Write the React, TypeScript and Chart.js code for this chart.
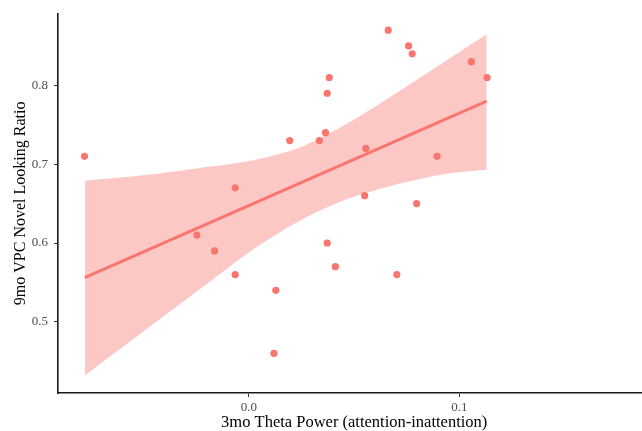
import React, { useEffect, useRef } from "react";
import { Chart, registerables } from "chart.js";

Chart.register(...registerables);

// Scatter data: 3mo theta power (x) vs 9mo VPC novel looking ratio (y)
const thetaPower = [
  -0.0781, -0.0247, -0.0163, -0.0065, -0.0065, 0.0119, 0.0128, 0.0194,
  0.0335, 0.0364, 0.0372, 0.0382, 0.0372, 0.0411, 0.055, 0.0556,
  0.0662, 0.0703, 0.0759, 0.0776, 0.0797, 0.0894, 0.1057, 0.1132,
];
const lookingRatio = [
  0.71, 0.61, 0.59, 0.67, 0.56, 0.46, 0.54, 0.73,
  0.73, 0.74, 0.79, 0.81, 0.6, 0.57, 0.66, 0.72,
  0.87, 0.56, 0.85, 0.84, 0.65, 0.71, 0.83, 0.81,
];

// Regression fit line
const fitX = [-0.078, 0.113];
const fitY = [0.556, 0.78];

// Confidence band
const bandX = [-0.078, -0.047, -0.024, 0.0, 0.024, 0.047, 0.071, 0.094, 0.113];
const bandUpper = [0.679, 0.687, 0.695, 0.704, 0.721, 0.752, 0.792, 0.832, 0.865];
const bandLower = [0.432, 0.494, 0.54, 0.588, 0.628, 0.656, 0.675, 0.688, 0.693];

const xTicks = [0.0, 0.1];
const yTicks = [0.5, 0.6, 0.7, 0.8];

const xTitle = "3mo Theta Power (attention-inattention)";
const yTitle = "9mo VPC Novel Looking Ratio";

const RED = "#F8766D";
const BAND = "rgba(248,118,109,0.4)";
const FONT = '"Liberation Serif", "Times New Roman", "DejaVu Serif", serif';

export default function App() {
  const ref = useRef<HTMLCanvasElement>(null);

  useEffect(() => {
    const canvas = ref.current;
    if (!canvas) return;
    const points = thetaPower.map((x, i) => ({ x, y: lookingRatio[i] }));
    const fit = fitX.map((x, i) => ({ x, y: fitY[i] }));
    const upper = bandX.map((x, i) => ({ x, y: bandUpper[i] }));
    const lower = bandX.map((x, i) => ({ x, y: bandLower[i] }));

    const chart = new Chart(canvas, {
      type: "scatter",
      data: {
        datasets: [
          {
            type: "scatter",
            data: points,
            pointRadius: 3.6,
            pointHoverRadius: 3.6,
            backgroundColor: RED,
            borderWidth: 0,
            order: 0,
          } as any,
          {
            type: "line",
            data: fit,
            borderColor: RED,
            borderWidth: 3,
            pointRadius: 0,
            fill: false,
            order: 1,
          } as any,
          {
            type: "line",
            data: upper,
            borderColor: "rgba(0,0,0,0)",
            borderWidth: 0,
            pointRadius: 0,
            fill: "+1",
            backgroundColor: BAND,
            tension: 0.3,
            order: 2,
          } as any,
          {
            type: "line",
            data: lower,
            borderColor: "rgba(0,0,0,0)",
            borderWidth: 0,
            pointRadius: 0,
            fill: false,
            tension: 0.3,
            order: 3,
          } as any,
        ],
      },
      options: {
        responsive: false,
        animation: false,
        layout: { padding: { top: 13, right: 0, bottom: 0, left: 0 } },
        plugins: {
          legend: { display: false },
          tooltip: { enabled: false },
        },
        scales: {
          x: {
            type: "linear",
            min: -0.0907,
            max: 0.1908,
            afterBuildTicks: (s: any) => {
              s.ticks = xTicks.map((v) => ({ value: v }));
            },
            afterFit: (s: any) => {
              s.height = 38;
            },
            grid: {
              drawOnChartArea: false,
              drawTicks: true,
              tickLength: 4,
              color: "#333",
              lineWidth: 1,
            },
            border: { display: true, color: "#1a1a1a", width: 1.6 },
            ticks: {
              font: { family: FONT, size: 13 },
              color: "#4d4d4d",
              padding: 3,
              maxRotation: 0,
              callback: (v: any) => Number(v).toFixed(1),
            },
            title: {
              display: true,
              text: xTitle,
              font: { family: FONT, size: 16.5, lineHeight: 1 },
              color: "#000",
              padding: { top: 0, bottom: 0 },
            },
          },
          y: {
            type: "linear",
            min: 0.4097,
            max: 0.8908,
            afterBuildTicks: (s: any) => {
              s.ticks = yTicks.map((v) => ({ value: v }));
            },
            afterFit: (s: any) => {
              s.width = 58;
            },
            grid: {
              drawOnChartArea: false,
              drawTicks: true,
              tickLength: 4,
              color: "#333",
              lineWidth: 1,
            },
            border: { display: true, color: "#1a1a1a", width: 1.6 },
            ticks: {
              font: { family: FONT, size: 13 },
              color: "#4d4d4d",
              padding: 6,
              callback: (v: any) => Number(v).toFixed(1),
            },
            title: {
              display: true,
              text: yTitle,
              font: { family: FONT, size: 16, lineHeight: 1 },
              color: "#000",
              padding: { top: 13, bottom: 0 },
            },
          },
        },
      } as any,
    });
    return () => chart.destroy();
  }, []);

  return (
    <div
      style={{
        position: "fixed",
        left: 0,
        top: 0,
        width: 642,
        height: 431,
        overflow: "hidden",
        background: "#fff",
      }}
    >
      <canvas ref={ref} width={654} height={431} style={{ display: "block" }} />
    </div>
  );
}
